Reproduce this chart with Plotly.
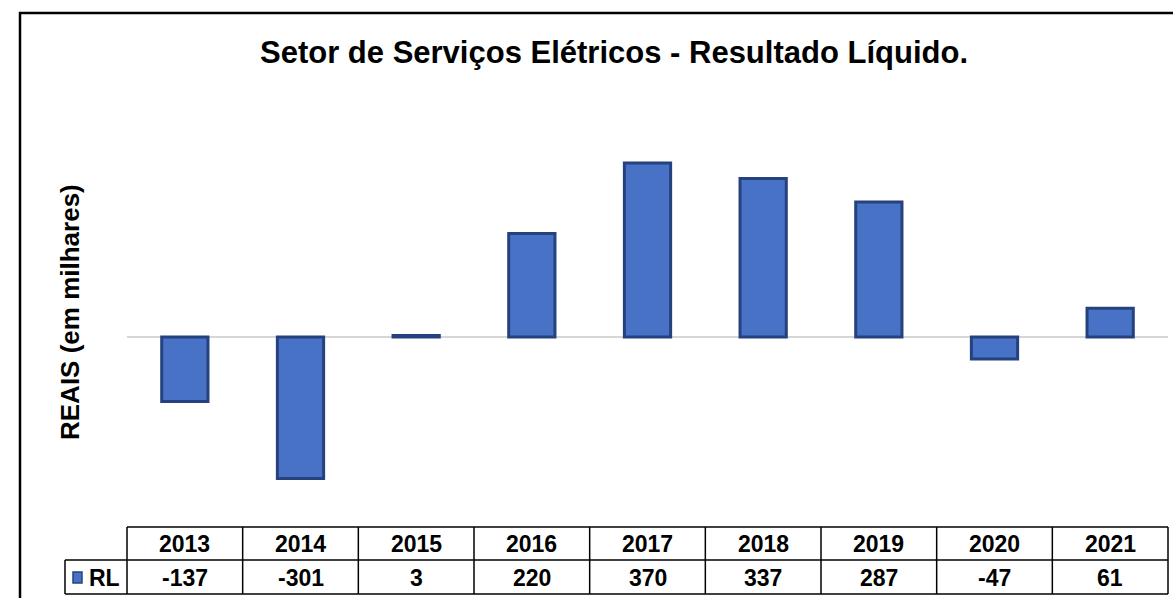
import plotly.graph_objects as go

years = ["2013", "2014", "2015", "2016", "2017", "2018", "2019", "2020", "2021"]
values = [-137, -301, 3, 220, 370, 337, 287, -47, 61]
series_name = "RL"
title_text = "Setor de Serviços Elétricos - Resultado Líquido."
y_title = "REAIS (em milhares)"

W, H = 1173, 598
ML, MR, MT, MB = 127, 5, 100, 78
plot_top, plot_bot = MT, H - MB
plot_h = plot_bot - plot_top
plot_w = W - ML - MR

def py(p):  # pixel y -> paper y
    return (plot_bot - p) / plot_h

def dx(p):  # pixel x -> x domain
    return (p - ML) / plot_w

FONT = "Arial, 'Liberation Sans', sans-serif"
BAR = "#4872c6"
EDGE = "#25427e"

zero_px = 337
scale = 0.470
y_range = [-(plot_bot - zero_px) / scale, (zero_px - plot_top) / scale]

fig = go.Figure()
fig.add_trace(go.Bar(
    x=list(range(len(years))), y=values, width=0.40,
    marker=dict(color=BAR, line=dict(color=EDGE, width=3)),
    showlegend=False, hoverinfo="x+y",
))

shapes = []
line = dict(color="black", width=1.5)
# outer chart border
shapes.append(dict(type="rect", xref="x domain", yref="paper",
                   x0=dx(20), x1=dx(1185), y0=py(610), y1=py(13),
                   line=dict(color="black", width=2.5), fillcolor="rgba(0,0,0,0)"))
# table horizontal lines
y_top, y_mid, y_bot = py(527), py(560), py(594)
shapes.append(dict(type="line", xref="x domain", yref="paper", x0=0, x1=1, y0=y_top, y1=y_top, line=line))
shapes.append(dict(type="line", xref="x domain", yref="paper", x0=dx(65), x1=1, y0=y_mid, y1=y_mid, line=line))
shapes.append(dict(type="line", xref="x domain", yref="paper", x0=dx(65), x1=1, y0=y_bot, y1=y_bot, line=line))
# table vertical lines
shapes.append(dict(type="line", xref="x domain", yref="paper", x0=dx(65), x1=dx(65), y0=y_mid, y1=y_bot, line=line))
shapes.append(dict(type="line", xref="x domain", yref="paper", x0=0, x1=0, y0=y_top, y1=y_bot, line=line))
shapes.append(dict(type="line", xref="x domain", yref="paper", x0=1, x1=1, y0=y_top, y1=y_bot, line=line))
for i in range(1, len(years)):
    shapes.append(dict(type="line", xref="x", yref="paper", x0=i - 0.5, x1=i - 0.5,
                       y0=y_top, y1=y_bot, line=line))
# legend swatch
shapes.append(dict(type="rect", xref="x domain", yref="paper", x0=dx(73), x1=dx(82),
                   y0=py(583), y1=py(572), fillcolor=BAR, line=dict(color=EDGE, width=1.5)))

annotations = []
def ann(**kw):
    base = dict(showarrow=False, xanchor="center", yanchor="middle")
    base.update(kw)
    annotations.append(base)

for i, (yr, v) in enumerate(zip(years, values)):
    ann(x=i, xref="x", y=py(544), yref="paper", text=f"<b>{yr}</b>",
        font=dict(family=FONT, size=23, color="black"))
    ann(x=i, xref="x", y=py(578), yref="paper", text=f"<b>{v}</b>",
        font=dict(family=FONT, size=23, color="black"))
ann(x=dx(104), xref="x domain", y=py(578), yref="paper", text=f"<b>{series_name}</b>",
    font=dict(family=FONT, size=23, color="black"))
ann(x=dx(70), xref="x domain", y=py(312), yref="paper", text=f"<b>{y_title}</b>",
    textangle=-90, font=dict(family=FONT, size=26, color="black"))

fig.update_layout(
    width=W, height=H,
    margin=dict(l=ML, r=MR, t=MT, b=MB),
    paper_bgcolor="white", plot_bgcolor="white",
    title=dict(text=f"<b>{title_text}</b>", x=614 / W, xanchor="center",
               y=1 - 52 / H, yanchor="middle", font=dict(family=FONT, size=31, color="black")),
    xaxis=dict(range=[-0.5, len(years) - 0.5], showticklabels=False, showgrid=False,
               zeroline=False, showline=False, ticks=""),
    yaxis=dict(range=y_range, showticklabels=False, showgrid=False, zeroline=True,
               zerolinecolor="#d6d6d6", zerolinewidth=2, showline=False, ticks=""),
    shapes=shapes, annotations=annotations,
    bargap=0.6,
)

fig.write_html("out.html", config={"displayModeBar": False},
               post_script="document.body.style.margin='0';")
